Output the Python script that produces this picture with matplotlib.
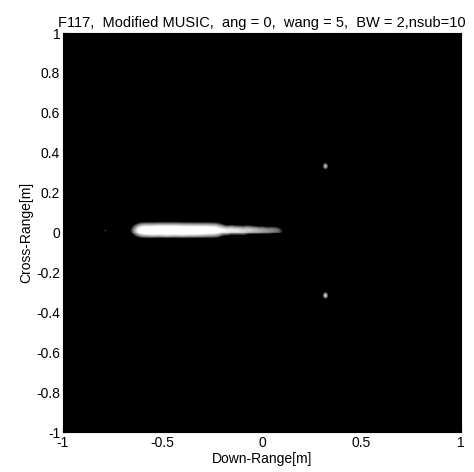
import numpy as np
import matplotlib
matplotlib.use('Agg')
from matplotlib import pyplot as plt

plt.rcParams['font.family'] = ['Liberation Sans', 'DejaVu Sans']

title = 'F117,  Modified MUSIC,  ang = 0,  wang = 5,  BW = 2,nsub=10'

# scatterers along the fuselage: down-range, cross-range, amplitude
body_x = [-0.60, -0.56, -0.52, -0.48, -0.44, -0.40, -0.36, -0.32, -0.28, -0.24]
body_y = [0.012, 0.012, 0.013, 0.013, 0.013, 0.012, 0.012, 0.012, 0.012, 0.012]
body_a = [1.0, 1.0, 1.0, 1.0, 1.0, 1.0, 0.95, 0.9, 0.85, 0.8]

# lower edge of the fuselage
edge_x = [-0.55, -0.48, -0.41, -0.34]
edge_y = [-0.012, -0.014, -0.013, -0.012]
edge_a = [0.12, 0.14, 0.12, 0.1]

# weaker tail returns
tail_x = [-0.20, -0.18, -0.16, -0.14, -0.12, -0.10, -0.08, -0.06, -0.04, -0.02,
          0.00, 0.02, 0.04, 0.06, 0.08]
tail_y = [0.014, 0.008, 0.016, 0.010, 0.014, 0.008, 0.016, 0.012, 0.014, 0.010,
          0.014, 0.010, 0.012, 0.014, 0.010]
tail_a = [0.3, 0.26, 0.24, 0.22, 0.2, 0.17, 0.15, 0.13, 0.1, 0.08,
          0.07, 0.06, 0.05, 0.04, 0.035]

# isolated faint return ahead of the nose
nose_x = [-0.79]
nose_y = [0.012]
nose_a = [0.03]

# wing tips
tip_x = [0.318, 0.318]
tip_y = [0.335, -0.318]
tip_a = [0.16, 0.2]

n = 400
g = np.linspace(-1, 1, n)
X, Y = np.meshgrid(g, g)
img = np.zeros_like(X)

def add(xs, ys, amps, sx, sy):
    global img
    for x0, y0, a in zip(xs, ys, amps):
        img = img + a * np.exp(-((X - x0) / sx) ** 2 - ((Y - y0) / sy) ** 2)

add(body_x, body_y, body_a, 0.03, 0.02)
add(edge_x, edge_y, edge_a, 0.035, 0.008)
add(tail_x, tail_y, tail_a, 0.02, 0.014)
add(nose_x, nose_y, nose_a, 0.005, 0.005)
add(tip_x, tip_y, tip_a, 0.008, 0.010)

db = 10 * np.log10(img / img.max() + 1e-12)

fig = plt.figure(figsize=(4.74, 4.72), dpi=100)
ax = fig.add_axes([0.1329, 0.0847, 0.8397, 0.8453])
ax.imshow(db, cmap='gray', vmin=-22, vmax=-4, origin='lower',
          extent=[-1, 1, -1, 1], aspect='auto', interpolation='nearest')
ax.set_xlim(-1, 1)
ax.set_ylim(-1, 1)
ax.set_xticks([-1, -0.5, 0, 0.5, 1])
ax.set_xticklabels(['-1', '-0.5', '0', '0.5', '1'])
ax.set_yticks(np.round(np.arange(-1, 1.01, 0.2), 1))
ax.set_yticklabels(['-1', '-0.8', '-0.6', '-0.4', '-0.2', '0', '0.2', '0.4', '0.6', '0.8', '1'])
ax.tick_params(direction='in', length=4, labelsize=10)
ax.tick_params(axis='x', pad=3)
ax.tick_params(axis='y', pad=2)
ax.set_xlabel('Down-Range[m]', fontsize=10, labelpad=1)
ax.set_ylabel('Cross-Range[m]', fontsize=10, labelpad=2)
ax.set_title(title, fontsize=10.5, pad=4)

fig.savefig('out.png', dpi=100)
